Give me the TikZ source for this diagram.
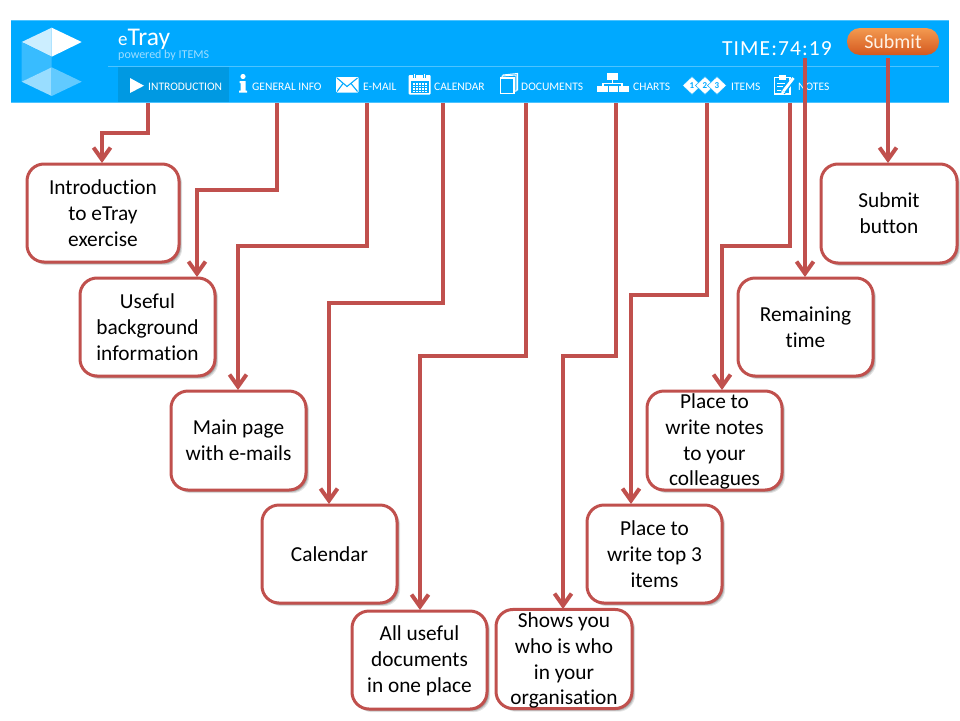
\documentclass[tikz,border=0pt]{standalone}
\usepackage{fontspec}
\setmainfont{Carlito}[Ligatures=NoCommon]
\usetikzlibrary{arrows.meta,shadows,calc}
\definecolor{hdr}{HTML}{00A9FF}
\definecolor{hdrdark}{HTML}{0099E2}
\definecolor{hdrline}{HTML}{4DC3FF}
\definecolor{redl}{HTML}{C0504D}
\tikzset{
 x=1pt,y=-1pt,
 callout/.style={draw=redl,line width=3pt,fill=white,rounded corners=17pt,align=center,
   font=\fontsize{21.33}{25.8}\selectfont,text=black,inner sep=0pt,
   general shadow={shadow xshift=3.2pt,shadow yshift=-3.2pt,fill=black,opacity=.10},
   general shadow={shadow xshift=2.4pt,shadow yshift=-2.4pt,fill=black,opacity=.14},
   general shadow={shadow xshift=1.6pt,shadow yshift=-1.6pt,fill=black,opacity=.18}},
 conn/.style={draw=redl,line width=4pt,-{Straight Barb[length=12pt,width=17pt,line width=4pt]}},
 navtext/.style={anchor=west,text=white,inner sep=0pt,font=\fontsize{11.5}{12}\selectfont},
 icon/.style={fill=white,draw=none},
 iconline/.style={draw=hdr,line width=1pt},
}
\newcommand{\cbox}[6]{% name, left, top, right, bottom, text
 \node[callout,minimum width={#4-#2},minimum height={#5-#3}] (#1) at ({(#2+#4)/2},{(#3+#5)/2}) {#6};}
\begin{document}
\begin{tikzpicture}
\useasboundingbox (0,0) rectangle (960,720);
% header
\fill[hdr] (11,21) rectangle (949,103);
\draw[hdrline,line width=.8pt] (11,20.6) -- (949,20.6);
\draw[hdrline,line width=.8pt] (11,102.6) -- (949,102.6);
\fill[hdrdark] (118,67) rectangle (229,102);
\draw[hdrline,line width=1pt] (108,66) -- (939,66);
% logo
\fill[white!80!hdr] (21.7,42) -- (51.7,27.7) -- (51.7,56.7) -- cycle;
\fill[white] (81.7,42) -- (51.7,27.7) -- (51.7,56.7) -- cycle;
\fill[white!22!hdr] (21.7,42) -- (51.7,56.7) -- (51.7,67.3) -- (21.7,81.7) -- cycle;
\fill[white!60!hdr] (21.7,81.7) -- (51.7,67.3) -- (51.7,96) -- cycle;
\fill[white!38!hdr] (81.7,81.7) -- (51.7,67.3) -- (51.7,96) -- cycle;
% title
\node[anchor=base west,inner sep=0pt,text=white,font=\fontsize{25.5}{26}\selectfont] (ttl) at (118,45) {{\fontsize{19}{20}\selectfont e}Tray};
\node[anchor=base west,inner sep=0pt,text=white!62!hdr,font=\fontsize{12}{14}\selectfont] (pow) at (118,58) {powered by ITEMS};
\node[anchor=base west,inner sep=0pt,text=white,font=\fontsize{21.5}{24}\selectfont] (tm) at (722,55) {\addfontfeature{LetterSpace=5}TIME:74:19};
% submit
\shade[top color={rgb,255:red,243;green,154;blue,80},bottom color={rgb,255:red,212;green,88;blue,31},rounded corners=13pt] (847,28) rectangle (939,55);
\node[text=white!90!orange,inner sep=0pt,font=\fontsize{20}{22}\selectfont] (sub) at (893,41.5) {Submit};
% nav labels
\node[navtext] (n1) at (148,87) {INTRODUCTION};
\node[navtext] (n2) at (252,87) {GENERAL INFO};
\node[navtext] (n3) at (363,87) {E-MAIL};
\node[navtext] (n4) at (434,87) {CALENDAR};
\node[navtext] (n5) at (521,87) {DOCUMENTS};
\node[navtext] (n6) at (633,87) {CHARTS};
\node[navtext] (n7) at (731,87) {ITEMS};
\node[navtext] (n8) at (798,87) {NOTES};
% play
\fill[icon] (130,78) -- (144,85.7) -- (130,93) -- cycle;
% info
\fill[icon] (243,76.5) circle (2.6);
\fill[icon] (239.5,81) -- (245.5,81) -- (245.5,90.5) -- (247,90.5) -- (247,92.5) -- (239,92.5) -- (239,90.5) -- (240.5,90.5) -- (240.5,83) -- (239.5,83) -- cycle;
% mail
\fill[icon,rounded corners=1pt] (336,77) rectangle (358.5,92.5);
\draw[draw=hdr,line width=1.1pt] (337,78) -- (347,86.5) -- (357.5,78);
\draw[draw=hdr,line width=1.1pt] (337,91.5) -- (343,83.5);
\draw[draw=hdr,line width=1.1pt] (357.5,91.5) -- (351,83.5);
% calendar
\fill[icon,rounded corners=1pt] (408.5,75) rectangle (430.5,94.5);
\fill[hdr] (410.5,80.5) rectangle (428.5,92.5);
\foreach \xx in {412.5,415.5,418.5,421.5,424.5} \foreach \yy in {83,85.5,88,90.5} \fill[white] (\xx,\yy) rectangle +(2,1.6);
\fill[hdr] (413,74) rectangle (416,78);
\fill[hdr] (423,74) rectangle (426,78);
\fill[white] (414,73.5) rectangle (415.2,77.5);
\fill[white] (424,73.5) rectangle (425.2,77.5);
% documents
\draw[white,line width=1pt,fill=hdr] (503,75) -- (517.5,73.5) -- (517.5,90) -- (503,91) -- cycle;
\draw[white,line width=1pt,fill=hdr] (502,76) -- (516,75) -- (516,91) -- (502,92) -- cycle;
\draw[white,line width=1.3pt,fill=hdr] (500.5,78) -- (514,78) -- (514,93.5) -- (500.5,93.5) -- cycle;
% charts
\fill[icon] (607,73) rectangle (618,79.5);
\draw[white,line width=1.2pt] (612.5,79) -- (612.5,84);
\draw[white,line width=1.2pt] (603,87) -- (603,83.5) -- (622,83.5) -- (622,87);
\fill[icon] (597,86) rectangle (608,92);
\fill[icon] (607.5,86) rectangle (618,92);
\fill[hdr] (607.5,86) rectangle (608.6,92);
\fill[icon] (618.5,86) rectangle (628.5,92);
% items
\foreach \cx/\dd in {692/1,705/2,717/3}{
 \draw[fill=white,draw=hdr,line width=.5pt] (\cx-9.5,85.5) -- (\cx,76.5) -- (\cx+9.5,85.5) -- (\cx,94.5) -- cycle;
}
\foreach \cx/\dd/\nm in {692/1/da,705/2/db,717/3/dc}{
 \node[text=hdr,inner sep=0pt,font=\bfseries\fontsize{9}{9}\selectfont] (\nm) at (\cx,85.5) {\dd};
}
% notes
\draw[white,line width=1.4pt,fill=hdr] (774.5,77.5) rectangle (790,94);
\fill[icon] (779,75) rectangle (785.5,79.5);
\draw[white,line width=1pt] (777,83) -- (785,83) (777,86.5) -- (783,86.5) (777,90) -- (781,90);
\draw[hdr,line width=4.2pt] (783,93) -- (793.5,79);
\draw[white,line width=2.8pt] (783.5,91) -- (793.5,78);
\fill[white] (781,95) -- (781.8,90) -- (785,92.5) -- cycle;
% boxes
\cbox{b1}{27}{164}{179}{262}{Introduction\\to eTray\\exercise}
\cbox{b2}{80}{278}{215}{376}{Useful\\background\\information}
\cbox{b3}{171}{391}{306}{490}{Main page\\with e-mails}
\cbox{b4}{262}{505}{397}{603}{Calendar}
\cbox{b5}{352}{611}{487}{709}{\rule{0pt}{16pt}All useful\\documents\\in one place}
\cbox{b6}{496}{610}{632}{708}{\rule{0pt}{18pt}Shows you\\who is who\\in your\\organisation}
\cbox{b7}{587}{505}{722}{603}{Place to\\write top 3\\items}
\cbox{b8}{647}{391}{782}{490}{\rule{0pt}{17pt}Place to\\write notes\\to your\\colleagues}
\cbox{b9}{738}{278}{873}{376}{Remaining\\time}
\cbox{b10}{821}{164}{957}{263}{Submit\\button}
% connector ends
\coordinate (s1) at (148,103); \coordinate (t1) at (102,163);
\coordinate (s2) at (277,103); \coordinate (t2) at (197,277);
\coordinate (s3) at (367,103); \coordinate (t3) at (238,390);
\coordinate (s4) at (443,103); \coordinate (t4) at (329,504);
\coordinate (s5) at (526,103); \coordinate (t5) at (420,610);
\coordinate (s6) at (616,103); \coordinate (t6) at (563,609);
\coordinate (s7) at (707,103); \coordinate (t7) at (631,504);
\coordinate (s8) at (790,103); \coordinate (t8) at (722,390);
\coordinate (s9) at (805,58);  \coordinate (t9) at (805,277);
\coordinate (s10) at (888,58); \coordinate (t10) at (888,163);
\foreach \i/\my in {1/133,2/190,3/246,4/303,5/356,6/356,7/295,8/246}{
 \draw[conn] (s\i) -- (s\i |- 0,\my) -- (t\i |- 0,\my) -- (t\i);
}
\draw[conn] (s9) -- (t9);
\draw[conn] (s10) -- (t10);
\end{tikzpicture}
\end{document}
